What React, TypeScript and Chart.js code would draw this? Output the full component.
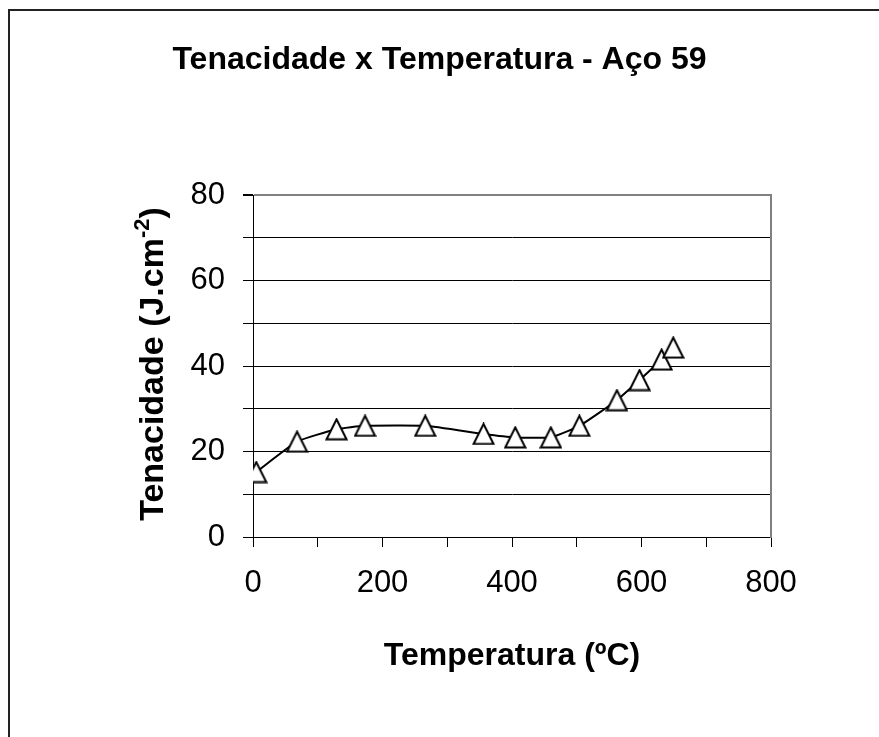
import React, { useEffect, useRef } from 'react';
import { Chart, registerables } from 'chart.js';

Chart.register(...registerables);

const TITLE = 'Tenacidade x Temperatura - Aço 59';
const X_TITLE = 'Temperatura (ºC)';
const Y_TITLE_MAIN = 'Tenacidade (J.cm';
const Y_TITLE_SUP = '-2';
const Y_TITLE_END = ')';

const temperatures = [5, 68, 129, 173, 266, 356, 405, 460, 504, 562, 597, 631, 649];
const toughness = [15.2, 22.3, 25.2, 26.0, 26.0, 24.1, 23.3, 23.3, 26.0, 32.0, 36.7, 41.5, 44.3];

const xLabelStep = 200;
const yLabelStep = 20;

const FONT = '"Liberation Sans", Arial, Helvetica, sans-serif';

function makeTriangle(size: number, lw: number): HTMLCanvasElement {
  const c = document.createElement('canvas');
  c.width = size;
  c.height = size;
  const ctx = c.getContext('2d')!;
  const inset = lw / 2 + 0.5;
  ctx.beginPath();
  ctx.moveTo(size / 2, inset);
  ctx.lineTo(size - inset, size - inset);
  ctx.lineTo(inset, size - inset);
  ctx.closePath();
  ctx.fillStyle = '#ffffff';
  ctx.fill();
  ctx.lineWidth = lw;
  ctx.lineJoin = 'miter';
  ctx.strokeStyle = '#000000';
  ctx.stroke();
  return c;
}

const framePlugin = {
  id: 'frame',
  beforeDraw(chart: any) {
    const { ctx, width, height } = chart;
    ctx.save();
    ctx.fillStyle = '#ffffff';
    ctx.fillRect(0, 0, width, height);
    ctx.fillStyle = '#222222';
    ctx.fillRect(8, 9, 2, height - 9);
    ctx.fillRect(8, 9, width - 8, 2);
    ctx.restore();
  },
};

const yTitlePlugin = {
  id: 'yTitleSup',
  afterDraw(chart: any) {
    const { ctx, chartArea } = chart;
    const cx = chartArea.left - 99;
    const cy = (chartArea.top + chartArea.bottom) / 2 - 2;
    const mainFont = `bold 34px ${FONT}`;
    const supFont = `bold 22px ${FONT}`;
    ctx.save();
    ctx.font = mainFont;
    const w1 = ctx.measureText(Y_TITLE_MAIN).width;
    const w3 = ctx.measureText(Y_TITLE_END).width;
    ctx.font = supFont;
    const w2 = ctx.measureText(Y_TITLE_SUP).width;
    const total = w1 + w2 + w3;
    ctx.translate(cx, cy);
    ctx.rotate(-Math.PI / 2);
    ctx.fillStyle = '#000000';
    ctx.textBaseline = 'middle';
    ctx.textAlign = 'left';
    let x = -total / 2;
    ctx.font = mainFont;
    ctx.fillText(Y_TITLE_MAIN, x, 0);
    x += w1;
    ctx.font = supFont;
    ctx.fillText(Y_TITLE_SUP, x, -11);
    x += w2;
    ctx.font = mainFont;
    ctx.fillText(Y_TITLE_END, x, 0);
    ctx.restore();
  },
};

export default function App() {
  const ref = useRef<HTMLCanvasElement | null>(null);

  useEffect(() => {
    if (!ref.current) return;
    const triangle = makeTriangle(23, 2);
    const chart = new Chart(ref.current, {
      type: 'scatter',
      data: {
        datasets: [
          {
            data: temperatures.map((t, i) => ({ x: t, y: toughness[i] })),
            showLine: true,
            tension: 0.15,
            borderColor: '#000000',
            borderWidth: 2,
            backgroundColor: '#ffffff',
            pointStyle: triangle as any,
            pointRadius: 11,
            pointHoverRadius: 11,
          },
        ],
      },
      plugins: [framePlugin, yTitlePlugin],
      options: {
        animation: false,
        responsive: false,
        events: [],
        layout: { padding: 0 },
        plugins: {
          legend: { display: false },
          tooltip: { enabled: false },
          title: {
            display: true,
            text: TITLE,
            color: '#000000',
            font: { family: FONT, size: 32, weight: 'bold' },
            padding: { top: 41, bottom: 115.6 },
          },
        },
        scales: {
          x: {
            type: 'linear',
            min: 0,
            max: 800,
            afterFit: (s: any) => {
              s.height = 200;
            },
            ticks: {
              stepSize: 100,
              color: '#000000',
              padding: 18,
              maxRotation: 0,
              autoSkip: false,
              font: { family: FONT, size: 31 },
              callback: (v: any) => (Number(v) % xLabelStep === 0 ? String(v) : ''),
            },
            grid: {
              display: true,
              drawOnChartArea: false,
              drawTicks: true,
              tickLength: 10,
              color: '#000000',
              lineWidth: 1,
            },
            border: { display: true, color: '#000000', width: 1 },
            title: {
              display: true,
              text: X_TITLE,
              color: '#000000',
              font: { family: FONT, size: 32, weight: 'bold' },
              padding: { top: 0, bottom: 62 },
            },
          },
          y: {
            type: 'linear',
            min: 0,
            max: 80,
            afterFit: (s: any) => {
              s.width = 253;
            },
            ticks: {
              stepSize: 10,
              color: '#000000',
              padding: 18,
              autoSkip: false,
              font: { family: FONT, size: 31 },
              callback: (v: any) => (Number(v) % yLabelStep === 0 ? String(v) : ''),
            },
            grid: {
              display: true,
              drawTicks: true,
              tickLength: 10,
              tickColor: '#000000',
              color: (c: any) => (c.tick && c.tick.value === 80 ? '#808080' : '#000000'),
              lineWidth: (c: any) => (c.tick && c.tick.value === 80 ? 2 : 1),
            },
            border: { display: true, color: '#000000', width: 1 },
          },
          y2: {
            type: 'linear',
            position: 'right',
            display: true,
            min: 0,
            max: 80,
            afterFit: (s: any) => {
              s.width = 108;
            },
            ticks: { display: false },
            grid: { display: true, drawOnChartArea: false, drawTicks: false },
            border: { display: true, color: '#808080', width: 2 },
          },
        },
      } as any,
    });
    return () => chart.destroy();
  }, []);

  return (
    <div style={{ position: 'absolute', left: 0, top: 0, width: 879, height: 737 }}>
      <canvas ref={ref} width={879} height={737} style={{ display: 'block' }} />
    </div>
  );
}
